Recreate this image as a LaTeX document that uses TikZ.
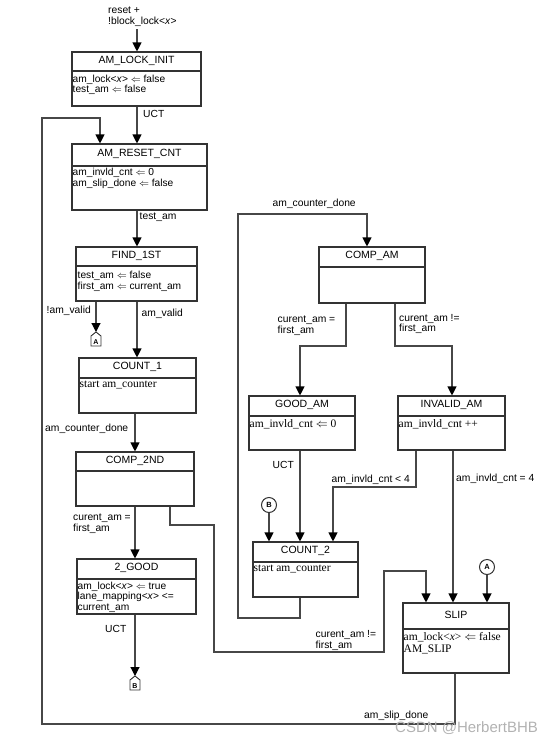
\documentclass[tikz,border=0pt]{standalone}
\usepackage{fontspec}
\setmainfont{Liberation Serif}
\setsansfont{Liberation Sans}
\usetikzlibrary{arrows.meta,calc}

\tikzset{
  ln/.style={draw=black!72, line width=1.1pt},
  arr/.style={ln, -{Triangle[width=9pt,length=9pt,color=black]}},
  sbox/.style={draw=black!80, line width=1.1pt, rectangle, inner sep=0pt},
  boxline/.style={draw=black!80, line width=1.1pt},
  stitle/.style={font=\sffamily\fontsize{10.5}{11}\selectfont, inner sep=0pt},
  sbody/.style={font=\sffamily\fontsize{10.2}{10.9}\selectfont, align=left, inner sep=0.5pt, anchor=north west},
  rbody/.style={font=\rmfamily\fontsize{11.5}{12.3}\selectfont, align=left, inner sep=0.5pt, anchor=north west},
  lbl/.style={font=\sffamily\fontsize{10.3}{10.6}\selectfont, align=left, inner sep=0pt, anchor=west},
  conn/.style={draw=black!80, line width=1pt, circle, inner sep=0pt, minimum size=15pt, font=\sffamily\bfseries\fontsize{7.5}{7.5}\selectfont},
  offp/.style={font=\sffamily\bfseries\fontsize{7}{7}\selectfont, inner sep=0pt},
}

\newcommand\stbox[7]{%
  \node[sbox, minimum width={(#4-#2)*1pt}, minimum height={(#5-#3)*1pt}] (#1) at ({(#2+#4)/2},{(#3+#5)/2}) {};
  \draw[boxline] (#2,#6) -- (#4,#6);
  \node[stitle] (#1t) at ({(#2+#4)/2},{(#3+#6)/2-1}) {#7};
}
\newcommand\offpage[3]{% name, x, ytop
  \node[offp] (#1) at (#2,{#3+9}) {};
  \draw[boxline, line width=0.9pt] ($(#1)+(-5,5)$) -- ($(#1)+(5,5)$) -- ($(#1)+(5,-5)$) -- ($(#1)+(0,-9)$) -- ($(#1)+(-5,-5)$) -- cycle;
}

\begin{document}
\begin{tikzpicture}[x=1pt, y=-1pt]
\useasboundingbox (0,0) rectangle (554,745);

% ---------- state boxes ----------
\stbox{amli}{72}{52}{201}{106}{71}{AM\_LOCK\_INIT}
\node[sbody] (amlib) at (72,74) {am\_lock<\textit{x}> $\Leftarrow$ false\\test\_am $\Leftarrow$ false};

\stbox{amrc}{72}{144}{207}{210}{166}{AM\_RESET\_CNT}
\node[sbody] (amrcb) at (72,167.5) {am\_invld\_cnt $\Leftarrow$ 0\\am\_slip\_done $\Leftarrow$ false};

\stbox{fst}{76}{247}{197}{301}{266}{FIND\_1ST}
\node[sbody] (fstb) at (77,270.5) {test\_am $\Leftarrow$ false\\first\_am $\Leftarrow$ current\_am};

\stbox{cone}{79}{358}{196}{413}{378}{COUNT\_1}
\node[rbody] (coneb) at (79,380.5) {start am\_counter};

\stbox{csnd}{76}{452}{194}{506}{471}{COMP\_2ND}

\stbox{gtwo}{77}{559}{196}{614}{579}{2\_GOOD}
\node[sbody] (gtwob) at (77,581) {am\_lock<\textit{x}> $\Leftarrow$ true\\lane\_mapping<\textit{x}> <=\\current\_am};

\stbox{cam}{319}{247}{425}{303}{267}{COMP\_AM}

\stbox{gam}{249}{396}{355}{450}{416}{GOOD\_AM}
\node[rbody] (gamb) at (249,418.5) {am\_invld\_cnt $\Leftarrow$ 0};

\stbox{iam}{398}{396}{505}{450}{416}{INVALID\_AM}
\node[rbody] (iamb) at (398,418.5) {am\_invld\_cnt ++};

\stbox{ctwo}{253}{542}{358}{597}{562}{COUNT\_2}
\node[rbody] (ctwob) at (253,564.5) {start am\_counter};

\stbox{slip}{403}{603}{509}{673}{629}{SLIP}
\node[rbody] (slipb) at (403,631.5) {am\_lock<\textit{x}> $\Leftarrow$ false\\AM\_SLIP};

% ---------- connectors A / B ----------
\offpage{offA}{96}{332}
\node[offp] (offAt) at (96,342) {A};
\offpage{offB}{135}{676}
\node[offp] (offBt) at (135,686) {B};
\node[conn] (cirB) at (269,505) {B};
\node[conn] (cirA) at (487,567) {A};

% ---------- transitions ----------
\coordinate (st) at (137,29);
\node[lbl, anchor=north west] (lst) at (108,7) {reset +\\!block\_lock<\textit{x}>};
\draw[arr] (st) -- (137,0 |- amli.north);

\draw[arr] (137,0 |- amli.south) -- (137,0 |- amrc.north);
\node[lbl] (luct1) at (143,113.5) {UCT};

\draw[arr] (455,0 |- slip.south) -- (455,724) -- (42,724) -- (42,118) -- (100,118) -- (100,0 |- amrc.north);
\node[lbl] (lsd) at (364,715.5) {am\_slip\_done};

\draw[arr] (137,0 |- amrc.south) -- (137,0 |- fst.north);
\node[lbl] (lta) at (139.5,217.5) {test\_am};

\draw[arr] (96,0 |- fst.south) -- ($(offA)+(0,-9)$);
\node[lbl] (lnv) at (46.5,310.5) {!am\_valid};

\draw[arr] (137,0 |- fst.south) -- (137,0 |- cone.north);
\node[lbl] (lv) at (141.5,313.5) {am\_valid};

\draw[arr] (135,0 |- cone.south) -- (135,0 |- csnd.north);
\node[lbl] (lcd1) at (45,429) {am\_counter\_done};

\draw[arr] (135,0 |- csnd.south) -- (135,0 |- gtwo.north);
\node[lbl] (leq1) at (73,523.5) {curent\_am =\\first\_am};

\draw[arr] (170,0 |- csnd.south) -- (170,525) -- (214,525) -- (214,652) -- (384,652) -- (384,571) -- (426,571) -- (426,0 |- slip.north);
\node[lbl] (lne2) at (315.5,640.5) {curent\_am !=\\first\_am};

\draw[arr] (135,0 |- gtwo.south) -- ($(offB)+(0,-9)$);
\node[lbl] (luct2) at (105,628.5) {UCT};

\draw[arr] (300,0 |- ctwo.south) -- (300,618) -- (238,618) -- (238,214) -- (367,214) -- (367,0 |- cam.north);
\node[lbl] (lcd2) at (272.5,203.5) {am\_counter\_done};

\draw[arr] (346,0 |- cam.south) -- (346,346) -- (300,346) -- (300,0 |- gam.north);
\node[lbl] (leq2) at (277.5,325.5) {curent\_am =\\first\_am};

\draw[arr] (395,0 |- cam.south) -- (395,346) -- (452,346) -- (452,0 |- iam.north);
\node[lbl] (lne1) at (399,324) {curent\_am !=\\first\_am};

\draw[arr] (300,0 |- gam.south) -- (300,0 |- ctwo.north);
\node[lbl] (luct3) at (272.5,465) {UCT};

\draw[arr] (416,0 |- iam.south) -- (416,487) -- (333,487) -- (333,0 |- ctwo.north);
\node[lbl] (llt) at (331.5,479.5) {am\_invld\_cnt < 4};

\draw[arr] (453,0 |- iam.south) -- (453,0 |- slip.north);
\node[lbl] (leq4) at (456,478.5) {am\_invld\_cnt = 4};

\draw[arr] (cirB.south) -- (269,0 |- ctwo.north);
\draw[arr] (cirA.south) -- (487,0 |- slip.north);

% watermark
\node[font=\sffamily\fontsize{15}{15}\selectfont, text=black!30, anchor=west, inner sep=0pt] (wm) at (395,728.5) {CSDN @HerbertBHB};
\end{tikzpicture}
\end{document}
